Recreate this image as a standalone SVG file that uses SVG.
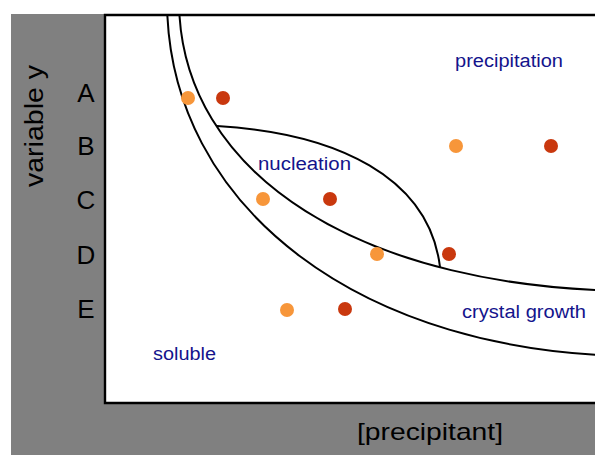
<svg xmlns="http://www.w3.org/2000/svg" width="595" height="455" viewBox="0 0 595 455">
  <style>
    .axis { font-family: "Liberation Sans", Arial, sans-serif; fill: #000000; }
    .region { font-family: "Liberation Sans", Arial, sans-serif; font-size: 18px; fill: #14148c; }
    .row { font-family: "Liberation Sans", Arial, sans-serif; font-size: 26px; fill: #000000; text-anchor: middle; }
    .curve { fill: none; stroke: #000000; stroke-width: 2; }
    .lo { fill: #f7963a; }
    .hi { fill: #c9380e; }
  </style>
  <defs>
    <clipPath id="plotClip">
      <rect x="106" y="16" width="489" height="386"/>
    </clipPath>
  </defs>
  <rect x="0" y="0" width="595" height="455" fill="#ffffff"/>
  <rect id="frame-bg" x="11" y="14" width="584" height="441" fill="#808080"/>
  <g id="plot">
    <rect x="105" y="15" width="490" height="388" fill="#ffffff"/>
    <path d="M595,15 H105 V403 H595" fill="none" stroke="#000000" stroke-width="2.4"/>
  </g>
  <g id="curves" clip-path="url(#plotClip)">
    <path id="outer-curve" class="curve" d="M167,0 C167,208 363,356 640,356"/>
    <path id="inner-curve" class="curve" d="M179,0 C179,175 363,291 640,291"/>
    <path id="nucleation-arc" class="curve" d="M217,126 C337,133 429,177 440,267"/>
  </g>
  <g id="axis-labels">
    <text class="axis" font-size="26" transform="translate(43,126) rotate(-90)" text-anchor="middle" textLength="122" lengthAdjust="spacingAndGlyphs">variable y</text>
    <text class="axis" font-size="24" x="357" y="440" textLength="146" lengthAdjust="spacingAndGlyphs">[precipitant]</text>
  </g>
  <g id="rows">
    <text class="row" x="86" y="102">A</text>
    <text class="row" x="86" y="155">B</text>
    <text class="row" x="86" y="209">C</text>
    <text class="row" x="86" y="264">D</text>
    <text class="row" x="86" y="318">E</text>
  </g>
  <g id="region-labels">
    <text id="lbl-precipitation" class="region" x="455" y="67" textLength="108" lengthAdjust="spacingAndGlyphs">precipitation</text>
    <text id="lbl-nucleation" class="region" x="258" y="170" textLength="93" lengthAdjust="spacingAndGlyphs">nucleation</text>
    <text id="lbl-crystal" class="region" x="462" y="318" textLength="124" lengthAdjust="spacingAndGlyphs">crystal growth</text>
    <text id="lbl-soluble" class="region" x="153" y="360" textLength="63" lengthAdjust="spacingAndGlyphs">soluble</text>
  </g>
  <g id="dots">
    <g id="row-A"><circle class="lo" cx="188" cy="98" r="7"/><circle class="hi" cx="223" cy="98" r="7"/></g>
    <g id="row-B"><circle class="lo" cx="456" cy="146" r="7"/><circle class="hi" cx="551" cy="146" r="7"/></g>
    <g id="row-C"><circle class="lo" cx="263" cy="199" r="7"/><circle class="hi" cx="330" cy="199" r="7"/></g>
    <g id="row-D"><circle class="lo" cx="377" cy="254" r="7"/><circle class="hi" cx="449" cy="254" r="7"/></g>
    <g id="row-E"><circle class="lo" cx="287" cy="310" r="7"/><circle class="hi" cx="345" cy="309" r="7"/></g>
  </g>
</svg>
